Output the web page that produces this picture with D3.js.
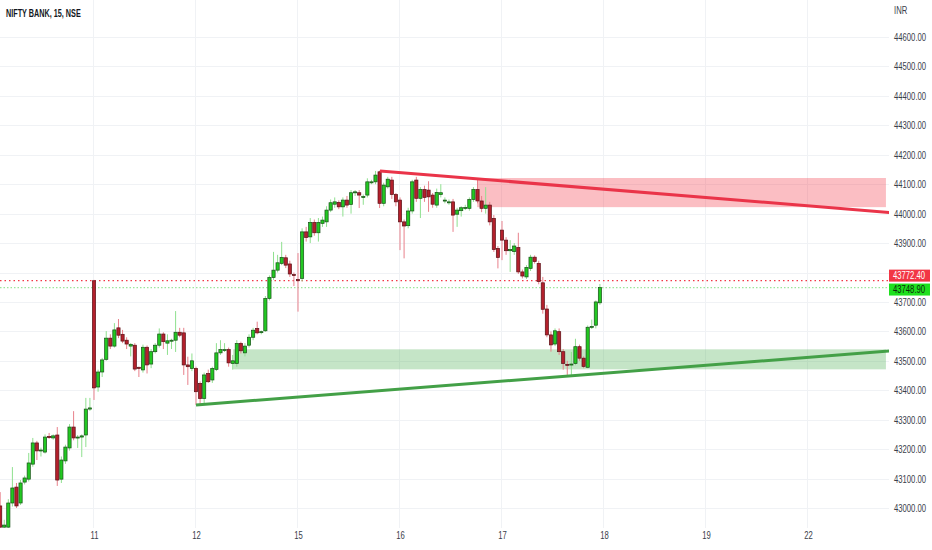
<!DOCTYPE html>
<html><head><meta charset="utf-8">
<script src="https://cdn.jsdelivr.net/npm/d3@7"></script>
<style>html,body{margin:0;padding:0;background:#fff;overflow:hidden}</style>
</head><body>
<svg id="c" width="932" height="550"></svg>
<script>
// ---- data ----
const title = "NIFTY BANK, 15, NSE";
const currency = "INR";
const firstBar = -23; // bar index of first candle (day 11 first bar = 0)
const open = [
43007,42935,42935,43017,43071,43017,43088,43098,43149,43221,43194,43190,43243,43238,43248,43098,43160,43204,43275,43238,43241,43248,43336,
43772,43411,43462,43505,43577,43550,43612,43590,43570,43550,43553,43478,43469,43546,43489,43531,43553,43591,43560,43568,43570,43597,43595,43486,43474,
43474,43423,43372,43457,43435,43471,43527,43537,43538,43491,43491,43559,43527,43553,43580,43610,43597,43602,43712,43783,43808,43831,43850,43829,43793,
43776,43780,43938,43921,43970,43935,43967,43972,44012,44032,44038,44023,44046,44031,44072,44071,44057,44063,44107,44108,44142,44035,44091,44114,44065,
44046,43972,43959,44009,44114,44052,44082,44080,44063,44029,44065,44046,44040,44040,43998,44010,44020,44018,44048,44082,44043,44018,44029,43984,43882,
43944,43910,43874,43871,43885,43802,43785,43814,43852,43831,43765,43676,43588,43557,43599,43531,43488,43486,43491,43548,43509,43478,43614,43621,43697];
const high = [
43054,42960,43030,43139,43085,43095,43110,43187,43238,43228,43205,43250,43255,43250,43275,43175,43215,43285,43329,43248,43250,43374,43374,
43775,43470,43510,43601,43590,43628,43642,43605,43580,43560,43560,43480,43555,43552,43540,43560,43610,43597,43590,43575,43669,43612,43612,43514,43525,
43480,43430,43460,43470,43480,43560,43570,43560,43545,43520,43570,43565,43560,43590,43612,43633,43603,43720,43790,43870,43860,43904,43860,43840,43800,
43866,43950,43955,43985,43980,43985,43990,44025,44048,44055,44045,44055,44060,44080,44080,44080,44065,44120,44115,44145,44146,44105,44125,44125,44070,
44055,43980,44020,44115,44125,44090,44095,44110,44070,44085,44100,44055,44048,44050,44020,44025,44030,44055,44090,44114,44060,44090,44040,43995,43890,
43975,43920,43910,43900,43935,43810,43825,43860,43858,43840,43785,43690,43600,43610,43610,43540,43500,43530,43575,43555,43515,43620,43640,43705,43761];
const low = [
42925,42925,42925,43005,43000,43010,43080,43090,43140,43163,43175,43185,43235,43232,43075,43085,43150,43195,43230,43204,43173,43207,43330,
43367,43395,43445,43500,43540,43545,43577,43560,43540,43515,43465,43445,43460,43457,43475,43525,43545,43540,43520,43540,43530,43580,43452,43418,43465,
43350,43350,43355,43425,43425,43465,43520,43530,43480,43470,43480,43525,43515,43545,43570,43590,43590,43598,43705,43775,43800,43825,43815,43785,43754,
43667,43770,43905,43900,43925,43905,43955,43955,44005,44020,44015,43990,44020,44000,44060,44019,44030,44055,44100,44100,44019,44025,44085,44050,44025,
43876,43848,43950,44000,44040,43985,44040,44006,44020,44020,44055,44035,44030,43938,43955,43990,44012,44010,44040,44035,44005,44000,43960,43870,43814,
43842,43860,43802,43860,43795,43780,43778,43805,43830,43760,43660,43580,43531,43550,43520,43470,43452,43452,43485,43500,43475,43475,43608,43610,43690];
const close = [
42935,42942,43017,43068,43007,43085,43102,43153,43221,43194,43197,43241,43239,43245,43095,43163,43207,43275,43238,43241,43245,43336,43340,
43408,43462,43503,43577,43550,43605,43587,43567,43557,43556,43472,43474,43546,43486,43531,43553,43591,43565,43568,43570,43597,43587,43486,43480,43500,
43395,43372,43452,43429,43474,43527,43538,43538,43493,43500,43559,43534,43550,43580,43604,43595,43599,43712,43783,43808,43833,43851,43825,43795,43790,
43772,43938,43919,43970,43935,43970,43978,44012,44037,44040,44023,44046,44029,44071,44074,44063,44058,44108,44108,44131,44035,44097,44117,44065,44040,
43972,43958,44009,44108,44052,44082,44055,44057,44032,44072,44071,44046,44040,43995,44012,44020,44021,44048,44082,44043,44018,44029,43972,43878,43851,
43910,43874,43878,43890,43802,43788,43817,43852,43837,43769,43675,43588,43554,43602,43531,43491,43486,43489,43548,43509,43481,43614,43617,43700,43748.9];

const dayLabels = ["11","12","15","16","17","18","19","22"];
const dayStarts = [0,25,50,75,100,125,150,175];
const priceTicks = [43000,43100,43200,43300,43400,43500,43600,43700,43800,43900,44000,44100,44200,44300,44400,44500,44600];
const hiddenTicks = [43800]; // covered by price labels
const refPrice = 43772.40;
const lastPrice = 43748.90;
// drawings: [barFrom, barTo, priceTop, priceBottom]
const resistanceZone = [93.9, 194.1, 44121, 44022];
const supportZone = [34.1, 194.1, 43539, 43471];
// trendlines: [bar1, price1, bar2, price2]
const resistanceLine = [70.1, 44145, 194.9, 44004];
const supportLine = [25.0, 43350, 194.9, 43533];

// ---- chart ----
const plotR = 889, plotB = 528;
const svg = d3.select("#c");
const x = d3.scaleLinear().domain([0, 125]).range([94, 604]);
const y = d3.scaleLinear().domain([43000, 44600]).range([508, 37]);
const font = "'Liberation Sans',Arial,sans-serif";
const fmt = d3.format(".2f");
const sx = "scale(0.7,1)"; // condensed look of the reference labels

svg.append("defs").append("clipPath").attr("id","clip")
  .append("rect").attr("x",0).attr("y",0).attr("width",plotR).attr("height",plotB);

// grid
const grid = svg.append("g");
grid.selectAll("line.h").data(priceTicks).join("line")
  .attr("x1",0).attr("x2",plotR).attr("y1",d=>Math.round(y(d))+0.5).attr("y2",d=>Math.round(y(d))+0.5)
  .attr("stroke","#f0f2f5").attr("stroke-width",1);
grid.selectAll("line.v").data(dayStarts).join("line")
  .attr("x1",d=>Math.round(x(d))-0.5).attr("x2",d=>Math.round(x(d))-0.5).attr("y1",0).attr("y2",plotB)
  .attr("stroke","#f0f2f5").attr("stroke-width",1);

const plot = svg.append("g").attr("clip-path","url(#clip)");

// zones
function zone(z, fill){
  plot.append("rect").attr("x",x(z[0])).attr("width",x(z[1])-x(z[0]))
    .attr("y",y(z[2])).attr("height",y(z[3])-y(z[2])).attr("fill",fill);
}
zone(resistanceZone, "rgba(242,54,69,0.32)");
zone(supportZone, "rgba(76,175,80,0.32)");

// price lines
plot.append("line").attr("x1",0).attr("x2",plotR).attr("y1",y(refPrice)).attr("y2",y(refPrice))
  .attr("stroke","#f23645").attr("stroke-width",1.2).attr("stroke-dasharray","1.5,3");
plot.append("line").attr("x1",0).attr("x2",plotR).attr("y1",y(lastPrice)).attr("y2",y(lastPrice))
  .attr("stroke","#9be59b").attr("stroke-width",1.2).attr("stroke-dasharray","1.5,2");

// candles
const bars = open.map((o,i)=>({i: firstBar+i, o, h: high[i], l: low[i], c: close[i]}));
const cg = plot.append("g");
cg.selectAll("line.w").data(bars).join("line")
  .attr("x1",d=>x(d.i)).attr("x2",d=>x(d.i)).attr("y1",d=>y(d.h)).attr("y2",d=>y(d.l))
  .attr("stroke",d=>d.c>=d.o?"#8fe08f":"#e8808b").attr("stroke-width",1);
cg.selectAll("rect.b").data(bars).join("rect")
  .attr("x",d=>x(d.i)-1.6).attr("width",3.2)
  .attr("y",d=>y(Math.max(d.o,d.c)))
  .attr("height",d=>Math.max(1, Math.abs(y(d.o)-y(d.c))))
  .attr("fill",d=>d.c>=d.o?"#22c822":"#b3202c")
  .attr("stroke",d=>d.c>=d.o?"#174f17":"#5a1016").attr("stroke-width",0.7);

// trendlines
function tline(t, color){
  plot.append("line").attr("x1",x(t[0])).attr("y1",y(t[1])).attr("x2",x(t[2])).attr("y2",y(t[3]))
    .attr("stroke",color).attr("stroke-width",3).attr("stroke-linecap","butt");
}
tline(resistanceLine, "#ea3449");
tline(supportLine, "#43a047");

// right axis
const ay = d3.axisRight(y).tickValues(priceTicks.filter(t=>!hiddenTicks.includes(t)))
  .tickFormat(fmt).tickSize(0).tickPadding(0);
const gy = svg.append("g").attr("transform",`translate(894,0)`).call(ay);
gy.select(".domain").remove();
gy.selectAll("text").attr("font-family",font).attr("font-size",11).attr("fill","#3a3e4a")
  .attr("transform",sx);
svg.append("g").attr("transform","translate(894,14)").append("text").text(currency)
  .attr("font-family",font).attr("font-size",11).attr("fill","#3a3e4a").attr("transform",sx);

// price labels
function plabel(p, yc, fill, tc){
  svg.append("rect").attr("x",889).attr("y",yc-6).attr("width",41).attr("height",12).attr("fill",fill);
  svg.append("g").attr("transform",`translate(893,${yc})`).append("text").attr("dy","0.35em")
    .text(fmt(p)).attr("font-family",font).attr("font-size",11).attr("fill",tc).attr("transform",sx);
}
plabel(refPrice, y(refPrice)-5, "#f23645", "#ffffff");
plabel(lastPrice, y(lastPrice)+2, "#1ee01e", "#0c2a0c");

// bottom axis
const ax = d3.axisBottom(x).tickValues(dayStarts).tickFormat((d,i)=>dayLabels[i]).tickSize(0).tickPadding(0);
const gx = svg.append("g").attr("transform",`translate(0,531)`).call(ax);
gx.select(".domain").remove();
gx.selectAll("text").attr("font-family",font).attr("font-size",11).attr("fill","#3a3e4a")
  .attr("transform",sx);

// title
svg.append("g").attr("transform","translate(6,17)").append("text").text(title)
  .attr("font-family",font).attr("font-size",11).attr("font-weight","bold").attr("fill","#131722")
  .attr("transform","scale(0.66,1)");
</script>
</body></html>
